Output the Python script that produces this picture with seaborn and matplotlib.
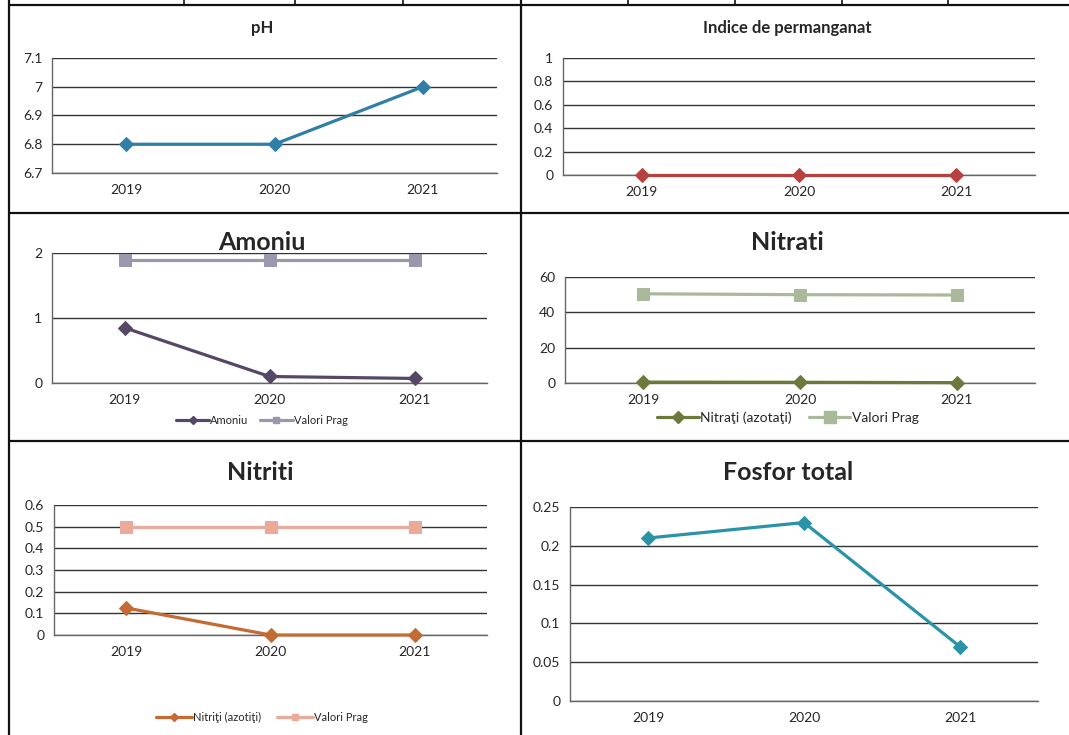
import matplotlib
matplotlib.use("Agg")
import matplotlib.pyplot as plt
from matplotlib.lines import Line2D
from matplotlib.ticker import FuncFormatter
import seaborn as sns
import pandas as pd

sns.set_style("white")
plt.rcParams["font.family"] = ["Lato", "DejaVu Sans"]

years = ["2019", "2020", "2021"]
ph_values = [6.8, 6.8, 7.0]
permanganat_values = [0.0, 0.0, 0.0]
amoniu_values = [0.85, 0.10, 0.07]
amoniu_prag = [1.9, 1.9, 1.9]
nitrati_values = [0.5, 0.4, 0.2]
nitrati_prag = [50.5, 50.0, 49.8]
nitriti_values = [0.125, 0.0, 0.0]
nitriti_prag = [0.5, 0.5, 0.5]
fosfor_values = [0.21, 0.23, 0.07]

W, H = 1069, 735
fig = plt.figure(figsize=(W / 100, H / 100), dpi=100)


def fx(x):
    return x / W


def fy(y):
    return 1 - y / H


def make_ax(x0, x1, y0, y1):
    return fig.add_axes([fx(x0), fy(y1), fx(x1) - fx(x0), (y1 - y0) / H])


fmt = FuncFormatter(lambda v, p: "%g" % round(v, 4))


def style_ax(ax, ylim, yticks, fs=10):
    ax.set_xlim(-0.5, 2.5)
    ax.set_ylim(*ylim)
    ax.set_yticks(yticks)
    ax.yaxis.set_major_formatter(fmt)
    ax.set_xticks([0, 1, 2])
    ax.set_xticklabels(years)
    ax.set_xticks([-0.5, 0.5, 1.5, 2.5], minor=True)
    ax.tick_params(axis="x", which="major", length=0, labelsize=fs, pad=8)
    ax.tick_params(axis="x", which="minor", length=4, direction="out", color="#555555")
    ax.tick_params(axis="y", which="major", length=4, direction="out", color="#555555",
                   labelsize=fs, pad=3)
    ax.grid(axis="y", color="#333333", linewidth=1.0)
    ax.grid(axis="x", visible=False)
    ax.set_axisbelow(True)
    for s in ["top", "right"]:
        ax.spines[s].set_visible(False)
    for s in ["left", "bottom"]:
        ax.spines[s].set_color("#666666")
        ax.spines[s].set_linewidth(1.0)
    ax.set_xlabel("")
    ax.set_ylabel("")
    if ax.get_legend() is not None:
        ax.get_legend().remove()


def series(ax, vals, color, marker, ms, lw=2.3):
    df = pd.DataFrame({"year": years, "val": vals})
    sns.lineplot(data=df, x="year", y="val", ax=ax, color=color, marker=marker,
                 markersize=ms, linewidth=lw, markeredgecolor=color,
                 sort=False, legend=False, clip_on=False, zorder=5)


# --- pH
ax1 = make_ax(52, 497, 58, 173)
series(ax1, ph_values, "#2f7fa8", "D", 7)
style_ax(ax1, (6.7, 7.1), [6.7, 6.8, 6.9, 7.0, 7.1])
fig.text(fx(262), fy(28), "pH", ha="center", va="center", fontsize=12, fontweight="bold")

# --- Permanganat
ax2 = make_ax(563, 1035, 58, 175)
series(ax2, permanganat_values, "#b8403f", "D", 7)
style_ax(ax2, (0, 1), [0, 0.2, 0.4, 0.6, 0.8, 1.0])
fig.text(fx(787), fy(28), "Indice de permanganat", ha="center", va="center",
         fontsize=12, fontweight="bold")

# --- Amoniu
ax3 = make_ax(52, 487, 253, 383)
series(ax3, amoniu_values, "#574766", "D", 7)
series(ax3, amoniu_prag, "#9b97ad", "s", 8)
style_ax(ax3, (0, 2), [0, 1, 2])
fig.text(fx(262), fy(243), "Amoniu", ha="center", va="center", fontsize=18, fontweight="bold")
h3 = [Line2D([], [], color="#574766", marker="D", markersize=4, lw=2.3),
      Line2D([], [], color="#9b97ad", marker="s", markersize=5, lw=2.3)]
fig.legend(h3, ["Amoniu", "Valori Prag"], loc="center", bbox_to_anchor=(fx(262), fy(420)),
           ncol=2, frameon=False, fontsize=8, handlelength=3, handletextpad=0.1,
           columnspacing=1.0)

# --- Nitrati
ax4 = make_ax(565, 1035, 277, 383)
series(ax4, nitrati_values, "#6b7a3a", "D", 7)
series(ax4, nitrati_prag, "#a9b99a", "s", 9)
style_ax(ax4, (0, 60), [0, 20, 40, 60])
fig.text(fx(787), fy(243), "Nitrati", ha="center", va="center", fontsize=18, fontweight="bold")
h4 = [Line2D([], [], color="#6b7a3a", marker="D", markersize=6, lw=2.3),
      Line2D([], [], color="#a9b99a", marker="s", markersize=8, lw=2.3)]
fig.legend(h4, ["Nitraţi (azotaţi)", "Valori Prag"], loc="center",
           bbox_to_anchor=(fx(788), fy(418)), ncol=2, frameon=False, fontsize=10,
           handlelength=3, handletextpad=0.1, columnspacing=1.2)

# --- Nitriti
ax5 = make_ax(54, 487, 505, 635)
series(ax5, nitriti_values, "#c46a32", "D", 7)
series(ax5, nitriti_prag, "#eaa99a", "s", 8)
style_ax(ax5, (0, 0.6), [0, 0.1, 0.2, 0.3, 0.4, 0.5, 0.6])
fig.text(fx(260), fy(472), "Nitriti", ha="center", va="center", fontsize=18, fontweight="bold")
h5 = [Line2D([], [], color="#c46a32", marker="D", markersize=4, lw=2.3),
      Line2D([], [], color="#eaa99a", marker="s", markersize=5, lw=2.3)]
fig.legend(h5, ["Nitriţi (azotiţi)", "Valori Prag"], loc="center",
           bbox_to_anchor=(fx(262), fy(717)), ncol=2, frameon=False, fontsize=8,
           handlelength=3.2, handletextpad=0.1, columnspacing=1.5)

# --- Fosfor total
ax6 = make_ax(570, 1038, 507, 701)
series(ax6, fosfor_values, "#2a93a8", "D", 7)
style_ax(ax6, (0, 0.25), [0, 0.05, 0.1, 0.15, 0.2, 0.25])
fig.text(fx(788), fy(472), "Fosfor total", ha="center", va="center", fontsize=18,
         fontweight="bold")

# --- table borders of the scanned page
lc = "#111111"
lw = 1.6
fig.add_artist(Line2D([fx(9), 1], [fy(5), fy(5)], color=lc, lw=lw))
fig.add_artist(Line2D([fx(9), 1], [fy(213), fy(213)], color=lc, lw=lw))
fig.add_artist(Line2D([fx(9), 1], [fy(441), fy(441)], color=lc, lw=lw))
fig.add_artist(Line2D([fx(9), fx(9)], [fy(0), fy(735)], color=lc, lw=lw))
fig.add_artist(Line2D([fx(521), fx(521)], [fy(0), fy(735)], color=lc, lw=lw))
for xv in [184, 295, 403, 628, 735, 842, 948]:
    fig.add_artist(Line2D([fx(xv), fx(xv)], [fy(0), fy(5)], color=lc, lw=1.2))

fig.savefig("out.png", dpi=100)
